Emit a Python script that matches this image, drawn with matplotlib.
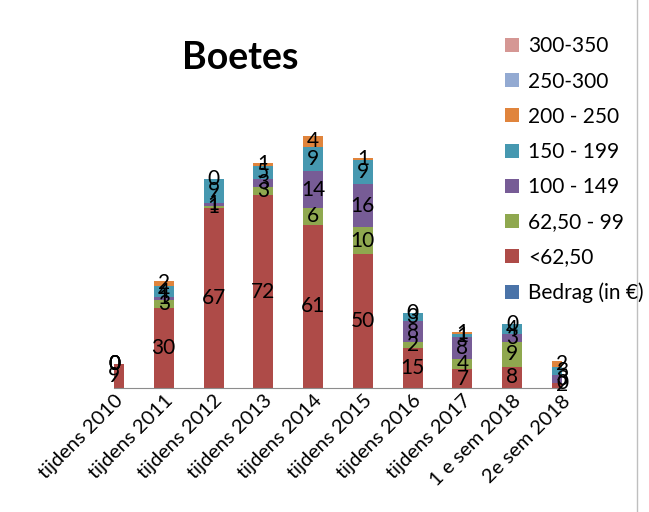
import numpy as np
from matplotlib import pyplot as plt
from matplotlib.lines import Line2D
from matplotlib.patches import Patch

periods = ['tijdens 2010', 'tijdens 2011', 'tijdens 2012', 'tijdens 2013',
           'tijdens 2014', 'tijdens 2015', 'tijdens 2016', 'tijdens 2017',
           '1 e sem 2018', '2e sem 2018']

# aantal boetes per bedragcategorie (stapelvolgorde van onder naar boven)
lt_62 = [9, 30, 67, 72, 61, 50, 15, 7, 8, 2]
b62_99 = [0, 3, 1, 3, 6, 10, 2, 4, 9, 0]
b100_149 = [0, 1, 1, 3, 14, 16, 8, 8, 3, 3]
b150_199 = [0, 4, 9, 5, 9, 9, 3, 1, 4, 3]
b200_250 = [0, 2, 0, 1, 4, 1, 0, 1, 0, 2]

series = [
    ('<62,50', lt_62, '#AE4B48'),
    ('62,50 - 99', b62_99, '#8FA84F'),
    ('100 - 149', b100_149, '#775C96'),
    ('150 - 199', b150_199, '#4698B0'),
    ('200 - 250', b200_250, '#E0843C'),
]
legend_names = ['300-350', '250-300', '200 - 250', '150 - 199',
                '100 - 149', '62,50 - 99', '<62,50', 'Bedrag (in €)']
legend_colors = ['#D59794', '#93AAD2', '#E0843C', '#4698B0',
                 '#775C96', '#8FA84F', '#AE4B48', '#4A73A8']

plt.rcParams['font.family'] = ['Lato', 'DejaVu Sans']

fig = plt.figure(figsize=(6.49, 5.12), dpi=100)
W, H = 649, 512
ax = fig.add_axes([114 / W, (H - 388) / H, (562 - 114) / W, 300 / H])

x = np.arange(len(periods))
bottom = np.zeros(len(periods))
for name, vals, col in series:
    vals = np.array(vals, dtype=float)
    ax.bar(x, vals, 0.4, bottom=bottom, color=col, label=name)
    for xi, b, v in zip(x, bottom, vals):
        ax.text(xi, b + v / 2, '%d' % v, ha='center', va='center',
                fontsize=15, color='black', clip_on=False)
    bottom += vals

ax.set_xlim(0, 9)
ax.set_ylim(0, 300 / 2.68)
for s in ['top', 'right', 'left']:
    ax.spines[s].set_visible(False)
ax.spines['bottom'].set_color('#8C8C8C')
ax.set_yticks([])
ax.set_xticks(x)
ax.set_xticklabels(periods, rotation=45, ha='right', rotation_mode='anchor',
                   fontsize=14.5)
ax.tick_params(axis='x', length=0, pad=3)

fig.text(240 / W, 1 - 58 / H, 'Boetes', ha='center', va='center',
         fontsize=27, fontweight='bold')

handles = [Patch(facecolor=c, edgecolor='none') for c in legend_colors]
fig.legend(handles, legend_names, loc='upper left',
           bbox_to_anchor=(497 / W, 1 - 28 / H), frameon=False, fontsize=15,
           handlelength=0.65, handleheight=0.65, handletextpad=0.45,
           labelspacing=0.73, borderaxespad=0)

# rand van het grafiekgebied
fig.add_artist(Line2D([637 / W, 637 / W], [0, 1], color='#BFBFBF', lw=1))

fig.savefig('out.png', dpi=100)
